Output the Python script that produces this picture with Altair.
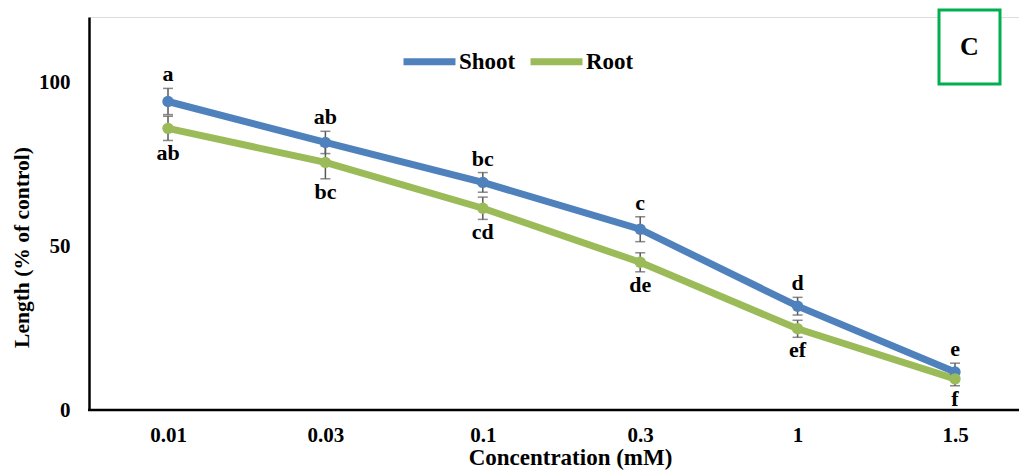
import altair as alt
import pandas as pd

concs = ["0.01", "0.03", "0.1", "0.3", "1", "1.5"]
shoot = [94.2, 81.7, 69.5, 55.2, 31.7, 11.6]
shoot_err = [4.0, 3.4, 3.0, 3.8, 2.7, 2.7]
shoot_letters = ["a", "ab", "bc", "c", "d", "e"]
root = [86.0, 75.6, 61.6, 45.1, 24.8, 9.5]
root_err = [3.7, 5.0, 3.4, 2.9, 2.6, 2.1]
root_letters = ["ab", "bc", "cd", "de", "ef", "f"]
series = ["Shoot", "Root"]
colors = ["#4F81BD", "#9BBB59"]
panel_label = ["C"]

rows = []
for name, vals, errs, lets in [("Shoot", shoot, shoot_err, shoot_letters),
                               ("Root", root, root_err, root_letters)]:
    for c, v, e, l in zip(concs, vals, errs, lets):
        rows.append({"conc": c, "series": name, "value": v,
                     "lo": v - e, "hi": v + e, "letter": l})
df = pd.DataFrame(rows)

FONT = "Liberation Serif"

x = alt.X("conc:N", sort=concs,
          scale=alt.Scale(type="point", range=[79, 866], padding=0),
          axis=alt.Axis(title="Concentration (mM)", labelAngle=0, ticks=False,
                        domain=False,
                        labelFont=FONT, labelFontWeight="bold", labelFontSize=21,
                        labelColor="black", labelPadding=14,
                        titleFont=FONT, titleFontWeight="bold", titleFontSize=23,
                        titleColor="black", titlePadding=1, titleX=481))
yscale = alt.Scale(domain=[0, 120], nice=False)
yaxis = alt.Axis(title="Length (% of control)", values=[0, 50, 100], ticks=False,
                 grid=False, domainColor="black", domainWidth=2.5,
                 labelFont=FONT, labelFontWeight="bold", labelFontSize=21,
                 labelColor="black", labelPadding=19,
                 titleFont=FONT, titleFontWeight="bold", titleFontSize=21.5,
                 titleColor="black", titlePadding=5, titleY=230)
color = alt.Color("series:N", sort=series,
                  scale=alt.Scale(domain=series, range=colors),
                  legend=alt.Legend(orient="none", legendX=311, legendY=15,
                                    direction="horizontal", title=None,
                                    symbolType="stroke", symbolStrokeWidth=7,
                                    symbolSize=2700, labelFont=FONT,
                                    labelFontWeight="bold", labelFontSize=23,
                                    labelColor="black", labelOffset=0,
                                    columnPadding=0, symbolOpacity=1))

base = alt.Chart(df)

err_rule = base.mark_rule(color="#595959", strokeWidth=1.5).encode(
    x=x, y=alt.Y("lo:Q", scale=yscale, axis=yaxis), y2="hi:Q")
cap_lo = base.mark_tick(color="#595959", thickness=1.5, size=10).encode(
    x=x, y=alt.Y("lo:Q", scale=yscale))
cap_hi = base.mark_tick(color="#595959", thickness=1.5, size=10).encode(
    x=x, y=alt.Y("hi:Q", scale=yscale))
line = base.mark_line(strokeWidth=7).encode(
    x=x, y=alt.Y("value:Q", scale=yscale), color=color,
    detail="series:N")
pts = base.mark_circle(size=130, opacity=1).encode(
    x=x, y=alt.Y("value:Q", scale=yscale),
    color=alt.Color("series:N", sort=series,
                    scale=alt.Scale(domain=series, range=colors), legend=None))
lab_top = base.transform_filter(alt.datum.series == "Shoot").mark_text(
    font=FONT, fontWeight="bold", fontSize=22, color="black",
    baseline="alphabetic", dy=-7).encode(
    x=x, y=alt.Y("hi:Q", scale=yscale), text="letter:N")
lab_bot = base.transform_filter(alt.datum.series == "Root").mark_text(
    font=FONT, fontWeight="bold", fontSize=22, color="black",
    baseline="alphabetic", dy=20).encode(
    x=x, y=alt.Y("lo:Q", scale=yscale), text="letter:N")

ann = alt.Chart(pd.DataFrame({"label": panel_label}))
xaxis_line = ann.mark_rule(color="black", strokeWidth=2.5).encode(
    x=alt.value(-1), x2=alt.value(930), y=alt.value(393))
box = ann.mark_rect(fill="white", stroke="#00B050", strokeWidth=3).encode(
    x=alt.value(850), x2=alt.value(911), y=alt.value(-7), y2=alt.value(67))
box_text = ann.mark_text(font=FONT, fontWeight="bold", fontSize=26,
                         color="black", baseline="middle").encode(
    x=alt.value(880.5), y=alt.value(30), text="label:N")

chart = alt.layer(err_rule, cap_lo, cap_hi, line, pts, lab_top, lab_bot,
                  xaxis_line, box, box_text).properties(
    width=930, height=393,
    autosize=alt.AutoSizeParams(type="none"),
    padding={"left": 89, "top": 17, "right": 0, "bottom": 60},
).configure_view(stroke=None).configure(background="white", font=FONT)

chart.save("out.html", embed_options={"renderer": "svg", "actions": False})
